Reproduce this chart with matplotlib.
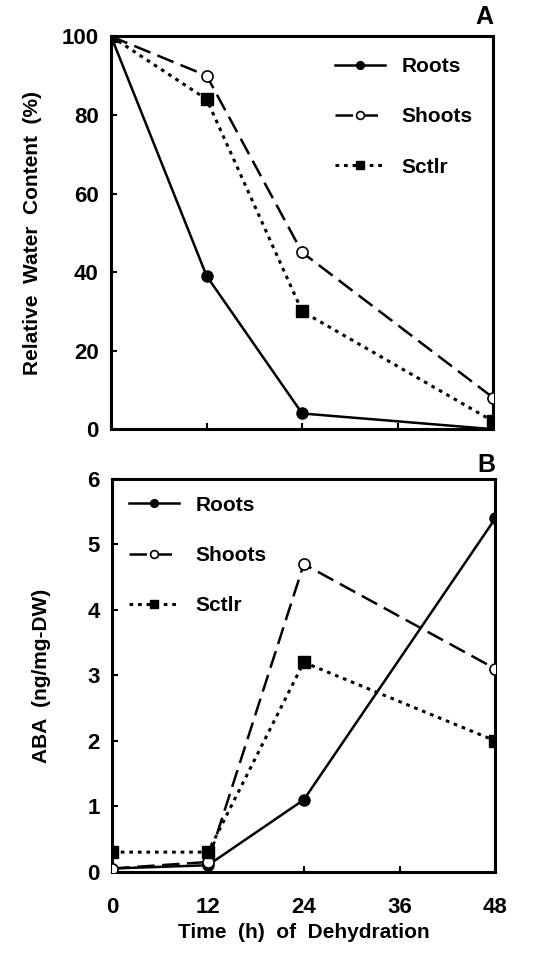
import numpy as np
import matplotlib.pyplot as plt

plt.rcParams['font.family'] = ['Liberation Sans', 'DejaVu Sans']
plt.rcParams['font.weight'] = 'bold'
plt.rcParams['axes.labelweight'] = 'bold'

hours = [0, 12, 24, 48]

# panel A: relative water content (%)
rwc_roots = [100, 39, 4, 0]
rwc_shoots = [100, 90, 45, 8]
rwc_sctlr = [100, 84, 30, 2]

# panel B: ABA (ng/mg-DW)
aba_roots = [0.05, 0.1, 1.1, 5.4]
aba_shoots = [0.05, 0.15, 4.7, 3.1]
aba_sctlr = [0.3, 0.3, 3.2, 2.0]

fig = plt.figure(figsize=(5.42, 9.58), dpi=100)
axA = fig.add_axes([0.205, 0.552, 0.705, 0.410])
axB = fig.add_axes([0.207, 0.090, 0.707, 0.410])


def draw(ax, roots, shoots, sctlr):
    ax.plot(hours, roots, '-', color='black', lw=1.8, marker='o', ms=8,
            mfc='black', label='Roots', zorder=3)
    ax.plot(hours, shoots, color='black', lw=1.8, dashes=(7, 3), marker='o',
            ms=8, mfc='white', mew=1.2, label='Shoots', zorder=3)
    ax.plot(hours, sctlr, color='black', lw=2.2, dashes=(1.2, 1.6), marker='s',
            ms=8, mfc='black', label='Sctlr', zorder=3)
    ax.set_xlim(0, 48)
    ax.set_xticks([0, 12, 24, 36, 48])
    for s in ax.spines.values():
        s.set_linewidth(2.2)
    ax.tick_params(direction='in', length=4, width=1.5, labelsize=16, pad=9)
    ax.tick_params(axis='x', pad=18)


draw(axA, rwc_roots, rwc_shoots, rwc_sctlr)
axA.set_ylim(0, 100)
axA.set_yticks([0, 20, 40, 60, 80, 100])
axA.set_xticklabels([])
axA.set_ylabel('Relative  Water  Content  (%)', fontsize=15, labelpad=14)
axA.legend(loc='upper right', frameon=False, fontsize=15, handlelength=2.4,
           labelspacing=1.5, borderaxespad=0.6, markerscale=0.7)
axA.text(1.0, 1.02, 'A', transform=axA.transAxes, ha='right', va='bottom',
         fontsize=18, fontweight='bold')

draw(axB, aba_roots, aba_shoots, aba_sctlr)
axB.set_ylim(0, 6)
axB.set_yticks([0, 1, 2, 3, 4, 5, 6])
axB.set_ylabel('ABA  (ng/mg-DW)', fontsize=15, labelpad=26)
axB.set_xlabel('Time  (h)  of  Dehydration', fontsize=15, labelpad=4)
axB.legend(loc='upper left', frameon=False, fontsize=15, handlelength=2.4,
           labelspacing=1.5, borderaxespad=0.4, markerscale=0.7)
axB.text(1.0, 1.005, 'B', transform=axB.transAxes, ha='right', va='bottom',
         fontsize=18, fontweight='bold')

fig.savefig('out.png', dpi=100)
